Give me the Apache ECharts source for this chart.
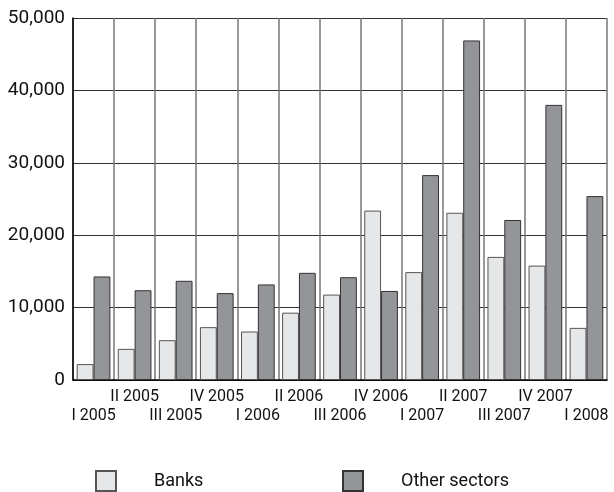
<!DOCTYPE html>
<html>
<head>
<meta charset="utf-8">
<script src="https://cdn.jsdelivr.net/npm/echarts@6/dist/echarts.min.js"></script>
<style>
  html, body { margin: 0; padding: 0; background: #fff; }
  #chart { width: 614px; height: 492px; }
</style>
</head>
<body>
<div id="chart"></div>
<script>
// quarterly values for the two sectors
const quarters = ['I 2005', 'II 2005', 'III 2005', 'IV 2005', 'I 2006', 'II 2006', 'III 2006',
  'IV 2006', 'I 2007', 'II 2007', 'III 2007', 'IV 2007', 'I 2008'];
const banks = [2200, 4300, 5500, 7300, 6700, 9300, 11800, 23400, 14900, 23100, 17000, 15800, 7200];
const otherSectors = [14300, 12400, 13700, 12000, 13200, 14800, 14200, 12300, 28300, 46900, 22100, 38000, 25400];

const font = 'Roboto, sans-serif';

const chart = echarts.init(document.getElementById('chart'));

const legendBase = {
  top: 470,
  padding: 0,
  itemWidth: 20,
  itemHeight: 20,
  icon: 'rect',
  textStyle: { fontFamily: font, fontSize: 18, color: '#111', padding: [0, 0, 0, 33] }
};

chart.setOption({
  animation: false,
  grid: { left: 73, right: 7, top: 18, bottom: 112 },
  legend: [
    Object.assign({}, legendBase, { left: 95, data: ['Banks'] }),
    Object.assign({}, legendBase, { left: 342, data: ['Other sectors'] })
  ],
  xAxis: {
    type: 'category',
    data: quarters,
    axisLine: { lineStyle: { color: '#000', width: 1.5 } },
    axisTick: { show: false },
    splitLine: { show: true, lineStyle: { color: '#777', width: 1.5 } },
    axisLabel: {
      interval: 0,
      margin: 7,
      fontFamily: font,
      fontSize: 16,
      color: '#111',
      lineHeight: 19,
      formatter: (v, i) => (i % 2 === 0 ? '\n' + v : v)
    }
  },
  yAxis: {
    type: 'value',
    min: 0,
    max: 50000,
    interval: 10000,
    axisLine: { show: true, lineStyle: { color: '#000', width: 1.5 } },
    axisTick: { show: false },
    splitLine: { lineStyle: { color: '#333', width: 1 } },
    axisLabel: {
      margin: 8,
      fontFamily: font,
      fontSize: 19,
      color: '#111',
      formatter: v => v.toLocaleString('en-US')
    }
  },
  series: [
    {
      name: 'Banks',
      type: 'bar',
      data: banks,
      barGap: 0,
      barCategoryGap: '18%',
      itemStyle: { color: '#e6e7e8', borderColor: '#555', borderWidth: 1 }
    },
    {
      name: 'Other sectors',
      type: 'bar',
      data: otherSectors,
      itemStyle: { color: '#939598', borderColor: '#333', borderWidth: 1 }
    }
  ]
});
</script>
</body>
</html>
